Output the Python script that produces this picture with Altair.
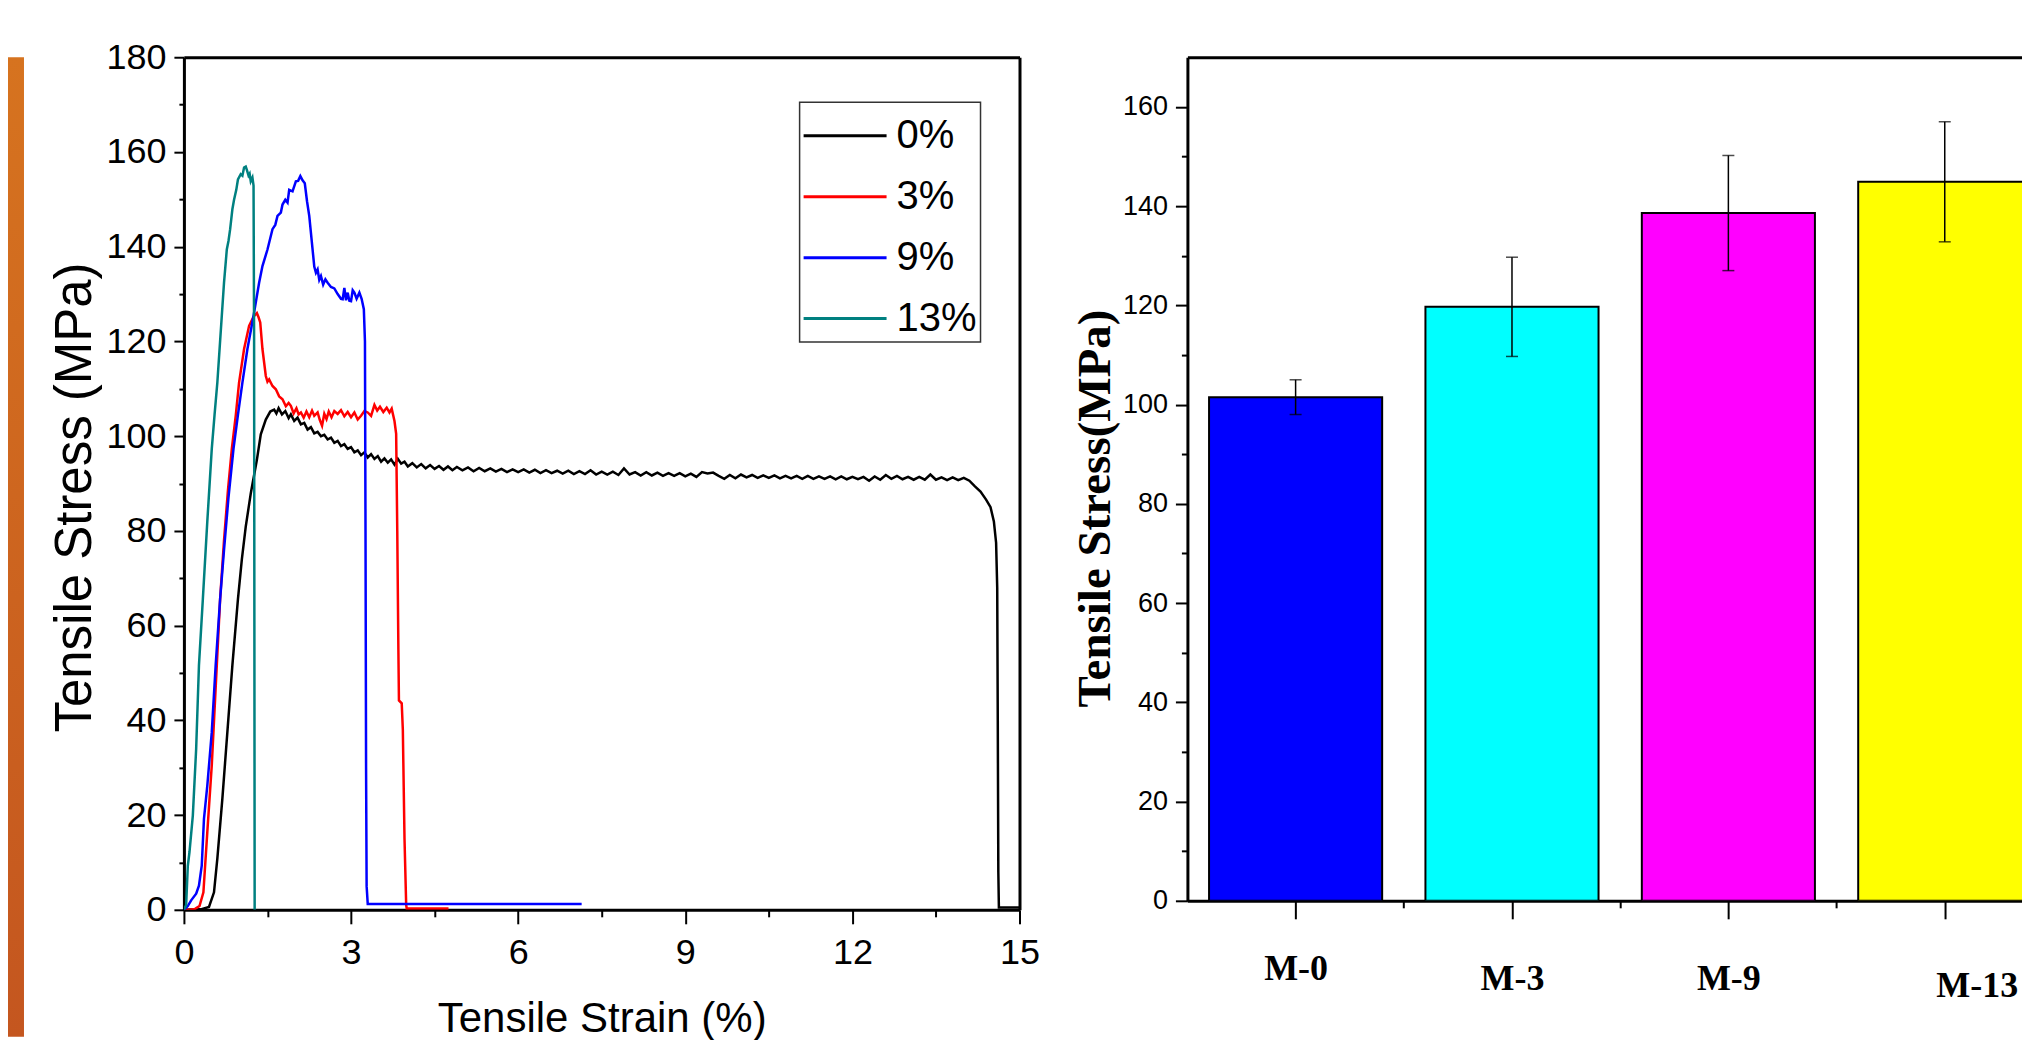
import altair as alt
import pandas as pd

# ---------------- left panel: stress-strain curves ----------------
series_names = ["0%", "3%", "9%", "13%"]
series_colors = ["#000000", "#ff0000", "#0000ff", "#008080"]

curve_0 = [(0.00,0.0),(0.30,0.1),(0.45,0.6),(0.54,3.7),(0.60,10.8),(0.69,23.4),(0.78,37.5),(0.87,51.6),(0.97,65.6),(1.04,74.0),(1.11,80.9),(1.20,87.9),(1.31,95.0),(1.38,100.4),(1.47,103.5),(1.55,105.2),(1.62,105.6),(1.66,104.8),(1.70,105.9),(1.76,104.6),(1.82,105.3),(1.88,103.8),(1.92,104.6),(1.98,103.2),(2.04,103.9),(2.10,102.5),(2.16,102.8),(2.22,101.4),(2.28,101.9),(2.34,100.6),(2.40,100.9),(2.46,100.0),(2.52,100.3),(2.58,99.3),(2.64,99.7),(2.70,98.6),(2.76,99.0),(2.82,97.9),(2.88,98.3),(2.94,97.3),(3.00,97.7),(3.06,96.6),(3.12,97.0),(3.18,96.0),(3.24,96.6),(3.30,95.5),(3.36,96.2),(3.42,95.2),(3.48,95.8),(3.54,94.6),(3.60,95.3),(3.66,94.4),(3.72,95.1),(3.78,94.0),(3.84,95.2),(3.90,94.2),(3.96,94.6),(4.02,93.6),(4.10,94.3),(4.18,93.4),(4.26,94.1),(4.34,93.2),(4.42,93.9),(4.50,93.1),(4.58,93.7),(4.66,92.9),(4.74,93.6),(4.82,92.8),(4.90,93.5),(5.00,92.8),(5.10,93.4),(5.20,92.6),(5.30,93.3),(5.40,92.6),(5.50,93.2),(5.60,92.5),(5.70,93.1),(5.80,92.4),(5.90,93.0),(6.00,92.4),(6.10,93.0),(6.20,92.3),(6.30,92.9),(6.40,92.2),(6.50,92.8),(6.60,92.2),(6.70,92.7),(6.80,92.1),(6.90,92.7),(7.00,92.0),(7.10,92.6),(7.20,92.0),(7.30,92.8),(7.40,91.9),(7.50,92.5),(7.60,91.9),(7.70,92.5),(7.80,91.8),(7.90,93.2),(8.00,91.9),(8.10,92.4),(8.20,91.7),(8.30,92.4),(8.40,91.7),(8.50,92.3),(8.60,91.6),(8.70,92.2),(8.80,91.6),(8.90,92.2),(9.00,91.5),(9.10,92.1),(9.20,91.4),(9.30,92.4),(9.40,92.1),(9.50,92.3),(9.60,91.6),(9.70,91.0),(9.80,91.8),(9.90,91.1),(10.00,91.9),(10.10,91.3),(10.20,91.8),(10.30,91.2),(10.40,91.7),(10.50,91.2),(10.60,91.7),(10.70,91.1),(10.80,91.6),(10.90,91.1),(11.00,91.6),(11.10,91.0),(11.20,91.6),(11.30,91.0),(11.40,91.5),(11.50,91.0),(11.60,91.5),(11.70,90.9),(11.80,91.5),(11.90,90.9),(12.00,91.4),(12.10,90.9),(12.20,91.4),(12.30,90.6),(12.40,91.5),(12.50,90.8),(12.60,91.8),(12.70,91.0),(12.80,91.6),(12.90,90.9),(13.00,91.4),(13.10,90.8),(13.20,91.4),(13.30,90.8),(13.40,91.9),(13.50,90.8),(13.60,91.3),(13.70,90.7),(13.80,91.3),(13.90,90.7),(14.00,91.2),(14.10,90.6),(14.20,89.4),(14.30,88.3),(14.40,86.6),(14.48,85.0),(14.54,82.0),(14.58,77.5),(14.60,68.0),(14.61,40.0),(14.62,8.0),(14.63,0.5),(15.00,0.5)]

curve_3 = [(0.00,0.0),(0.10,0.0),(0.20,0.2),(0.28,0.8),(0.35,3.7),(0.42,16.4),(0.50,30.5),(0.56,44.5),(0.65,65.6),(0.72,78.0),(0.79,88.5),(0.86,97.3),(0.93,104.3),(0.99,111.3),(1.08,118.4),(1.17,123.3),(1.25,125.2),(1.31,126.0),(1.34,125.1),(1.37,124.0),(1.41,118.4),(1.47,112.7),(1.50,111.5),(1.53,112.0),(1.59,110.6),(1.65,109.9),(1.71,108.4),(1.77,107.8),(1.83,106.3),(1.88,107.0),(1.92,106.4),(1.97,104.8),(2.02,105.9),(2.06,104.6),(2.10,105.0),(2.15,103.9),(2.20,105.2),(2.25,104.0),(2.30,105.4),(2.34,104.3),(2.40,105.0),(2.44,103.4),(2.48,102.2),(2.52,104.7),(2.56,103.6),(2.60,105.2),(2.65,104.0),(2.70,105.3),(2.76,104.7),(2.82,105.5),(2.88,104.2),(2.94,105.1),(3.00,104.0),(3.06,105.0),(3.12,103.5),(3.18,104.3),(3.24,105.3),(3.30,105.0),(3.36,104.3),(3.42,106.6),(3.47,105.4),(3.52,106.2),(3.58,105.1),(3.64,106.0),(3.69,105.0),(3.73,105.8),(3.78,103.2),(3.81,100.5),(3.83,80.0),(3.85,55.0),(3.86,44.2),(3.91,43.6),(3.93,38.0),(3.96,15.0),(3.99,1.0),(4.00,0.3),(4.75,0.3)]

curve_9 = [(0.00,0.0),(0.07,0.8),(0.13,2.0),(0.22,3.4),(0.27,5.1),(0.32,9.3),(0.36,19.2),(0.42,26.2),(0.50,37.5),(0.57,51.6),(0.65,65.6),(0.72,76.0),(0.80,87.0),(0.89,97.3),(0.97,104.5),(1.05,111.3),(1.14,118.4),(1.25,125.4),(1.35,132.4),(1.41,135.9),(1.50,139.4),(1.59,143.7),(1.64,144.6),(1.68,146.5),(1.74,147.2),(1.77,148.9),(1.82,149.9),(1.86,149.3),(1.89,152.0),(1.95,151.7),(2.01,153.8),(2.05,153.9),(2.09,154.9),(2.13,154.0),(2.17,153.4),(2.21,149.6),(2.25,146.5),(2.31,139.4),(2.34,135.8),(2.37,134.5),(2.40,135.2),(2.43,133.0),(2.46,133.8),(2.50,132.0),(2.54,133.1),(2.58,132.4),(2.64,131.5),(2.70,131.2),(2.76,130.0),(2.82,129.0),(2.85,128.9),(2.88,131.3),(2.91,128.7),(2.94,130.3),(2.97,128.6),(3.00,128.5),(3.03,130.8),(3.06,130.3),(3.10,129.0),(3.15,130.3),(3.19,129.0),(3.23,126.8),(3.25,120.0),(3.26,80.0),(3.27,30.0),(3.28,5.0),(3.30,1.2),(7.14,1.2)]

curve_13 = [(0.00,0.0),(0.04,1.0),(0.07,9.3),(0.10,12.2),(0.16,19.9),(0.22,34.0),(0.27,51.6),(0.34,65.6),(0.42,82.0),(0.50,97.3),(0.55,104.5),(0.60,111.3),(0.68,125.4),(0.72,132.4),(0.77,139.4),(0.80,141.2),(0.83,143.7),(0.87,147.9),(0.90,149.9),(0.94,152.0),(0.97,154.2),(1.02,155.3),(1.05,155.0),(1.08,156.7),(1.11,156.9),(1.13,156.2),(1.16,155.0),(1.18,155.4),(1.20,153.8),(1.23,154.6),(1.25,152.9),(1.26,120.0),(1.265,60.0),(1.27,0.0)]

left_x_ticks = [0, 1.5, 3, 4.5, 6, 7.5, 9, 10.5, 12, 13.5, 15]
left_y_ticks = [0, 10, 20, 30, 40, 50, 60, 70, 80, 90, 100, 110, 120, 130, 140, 150, 160, 170, 180]

# ---------------- right panel: bar chart ----------------
bar_names = ["M-0", "M-3", "M-9", "M-13"]
bar_values = [101.5, 119.7, 138.6, 144.9]
bar_errors = [3.5, 10.0, 11.6, 12.1]
bar_colors = ["#0000ff", "#00ffff", "#ff00ff", "#ffff00"]
right_x_ticks = [0, 0.5, 1, 1.5, 2, 2.5, 3]
right_y_ticks = [0, 10, 20, 30, 40, 50, 60, 70, 80, 90, 100, 110, 120, 130, 140, 150, 160]

SANS = "Liberation Sans, Arial, sans-serif"
SERIF = "Liberation Serif, Times New Roman, serif"

rows = []
for name, pts in zip(series_names, [curve_0, curve_3, curve_9, curve_13]):
    for i, (sx, sy) in enumerate(pts):
        rows.append({"series": name, "strain": sx, "stress": sy, "order": i})
curves = pd.DataFrame(rows)

x_scale_l = alt.Scale(domain=[0, 15], nice=False, zero=False)
y_scale_l = alt.Scale(domain=[0, 180], nice=False, zero=False)

lines = alt.Chart(curves).mark_line(strokeWidth=2.5, clip=True).encode(
    x=alt.X("strain:Q", scale=x_scale_l, axis=alt.Axis(
        values=left_x_ticks, title="Tensile Strain (%)",
        labelExpr="datum.value % 3 === 0 ? format(datum.value, 'd') : ''",
        tickSize={"condition": {"test": "datum.value % 3 !== 0", "value": 7}, "value": 14},
        tickWidth=2, tickColor="black", domainColor="black", domainWidth=3,
        labelFont=SANS, labelFontSize=36, labelColor="black", labelPadding=12,
        labelFlush=False, labelOverlap=False,
        titleFont=SANS, titleFontSize=42, titleFontWeight="normal", titleColor="black",
        titlePadding=28, grid=False)),
    y=alt.Y("stress:Q", scale=y_scale_l, axis=alt.Axis(
        values=left_y_ticks, title="Tensile Stress (MPa)",
        labelExpr="datum.value % 20 === 0 ? format(datum.value, 'd') : ''",
        tickSize={"condition": {"test": "datum.value % 20 !== 0", "value": 5}, "value": 10},
        tickWidth=2, tickColor="black", domainColor="black", domainWidth=3,
        labelFont=SANS, labelFontSize=36, labelColor="black", labelPadding=8,
        labelFlush=False, labelOverlap=False,
        titleFont=SANS, titleFontSize=51, titleFontWeight="normal", titleColor="black",
        titlePadding=4, titleY=440, grid=False)),
    color=alt.Color("series:N", scale=alt.Scale(domain=series_names, range=series_colors),
                    legend=alt.Legend(title=None, orient="none", legendX=616, legendY=45,
                                      symbolType="M-1.431,0H1.431", symbolSize=3364,
                                      symbolStrokeWidth=3, symbolOffset=12,
                                      labelFont=SANS, labelFontSize=40, labelColor="black",
                                      labelOffset=21, rowPadding=10, padding=3,
                                      strokeColor="#333333", fillColor="white")),
    order=alt.Order("order:Q"),
)

frame_l = alt.Chart(curves).mark_point(opacity=0).encode(
    x=alt.X("strain:Q", scale=x_scale_l, axis=alt.Axis(
        orient="top", values=[0], labels=False, tickSize=48, tickColor="transparent",
        domainColor="black", domainWidth=3, title=None, grid=False)),
    y=alt.Y("stress:Q", scale=y_scale_l, axis=alt.Axis(
        orient="right", labels=False, ticks=False, domainColor="black", domainWidth=3,
        title=None, grid=False)),
)

left = alt.layer(lines, frame_l).resolve_axis(x="independent", y="independent").properties(
    width=836, height=853)

bars_df = pd.DataFrame({"name": bar_names, "value": bar_values, "err": bar_errors,
                        "idx": list(range(len(bar_names)))})
x_scale_r = alt.Scale(domain=[-0.5, 3.357], nice=False, zero=False)
y_scale_r = alt.Scale(domain=[0, 170], nice=False, zero=False)
label_expr = "[" + ",".join("'%s'" % n for n in bar_names) + "][datum.value] || ''"

bars = alt.Chart(bars_df).transform_calculate(
    x0="datum.idx - 0.4", x1="datum.idx + 0.4"
).mark_bar(stroke="black", strokeWidth=2, clip=True).encode(
    x=alt.X("x0:Q", scale=x_scale_r, axis=alt.Axis(
        values=right_x_ticks, labelExpr=label_expr, title=None,
        tickSize={"condition": {"test": "datum.value % 1 !== 0", "value": 7}, "value": 18},
        tickWidth=2, tickColor="black", domainColor="black", domainWidth=3,
        labelFont=SERIF, labelFontWeight="bold", labelFontSize=36, labelColor="black",
        labelPadding={"condition": [{"test": "datum.value === 0", "value": 33},
                                    {"test": "datum.value === 3", "value": 50}], "value": 43},
        labelOffset={"condition": {"test": "datum.value === 3", "value": 32}, "value": 0},
        labelFlush=False, labelOverlap=False, grid=False)),
    x2="x1:Q",
    y=alt.Y("value:Q", scale=y_scale_r, axis=alt.Axis(
        values=right_y_ticks, title="Tensile Stress(MPa)",
        labelExpr="datum.value % 20 === 0 ? format(datum.value, 'd') : ''",
        tickSize={"condition": {"test": "datum.value % 20 !== 0", "value": 6}, "value": 12},
        tickWidth=2, tickColor="black", domainColor="black", domainWidth=3,
        labelFont=SANS, labelFontSize=27, labelColor="black", labelPadding=8,
        labelFlush=False, labelOverlap=False,
        titleFont=SERIF, titleFontWeight="bold", titleFontSize=47, titleColor="black",
        titlePadding=3, titleY=451, grid=False)),
    y2=alt.datum(0),
    color=alt.Color("name:N", scale=alt.Scale(domain=bar_names, range=bar_colors), legend=None),
)

err_rule = alt.Chart(bars_df).transform_calculate(
    lo="datum.value - datum.err", hi="datum.value + datum.err"
).mark_rule(color="black", strokeWidth=1.5).encode(
    x=alt.X("idx:Q", scale=x_scale_r, axis=None),
    y=alt.Y("lo:Q", scale=y_scale_r, axis=None),
    y2="hi:Q",
)

err_caps = alt.Chart(bars_df).transform_calculate(
    lo="datum.value - datum.err", hi="datum.value + datum.err"
).transform_fold(["lo", "hi"], as_=["end", "yv"]).mark_tick(
    orient="horizontal", size=12, thickness=1.5, color="black"
).encode(
    x=alt.X("idx:Q", scale=x_scale_r, axis=None),
    y=alt.Y("yv:Q", scale=y_scale_r, axis=None),
)

frame_r = alt.Chart(bars_df).mark_point(opacity=0).encode(
    x=alt.X("idx:Q", scale=x_scale_r, axis=alt.Axis(
        orient="top", values=[-0.5], labels=False, ticks=False,
        domainColor="black", domainWidth=3, title=None, grid=False)),
    y=alt.Y("value:Q", scale=y_scale_r, axis=None),
)

right = alt.layer(bars, err_rule, err_caps, frame_r).resolve_axis(
    x="independent", y="independent").properties(width=835, height=844)

strip = alt.Chart(pd.DataFrame({"k": [0]})).mark_rect(
    fill=alt.LinearGradient(gradient="linear",
                            stops=[alt.GradientStop(color="#d6731f", offset=0),
                                   alt.GradientStop(color="#c4561f", offset=1)],
                            x1=0, x2=0, y1=0, y2=1)
).encode(x=alt.value(0), x2=alt.value("width"), y=alt.value(0), y2=alt.value("height")).properties(
    width=16, height=980)

panels = alt.hconcat(left, right, spacing=30).resolve_scale(color="independent")

chart = alt.hconcat(strip, panels, spacing=25).properties(
    padding={"left": 0, "top": 0, "right": 0, "bottom": 0}, background="white"
).configure_view(stroke=None).configure_axis(grid=False).configure_legend(strokeWidth=1.5)

chart.save("out.html", embed_options={"renderer": "svg", "actions": False})
